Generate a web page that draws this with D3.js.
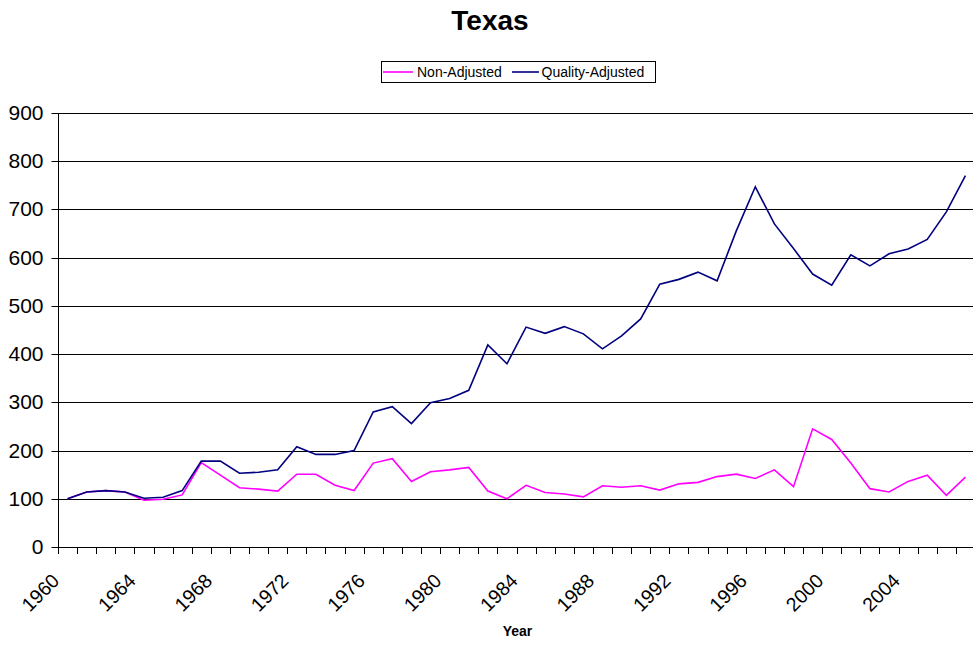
<!DOCTYPE html>
<html>
<head>
<meta charset="utf-8">
<script src="https://cdn.jsdelivr.net/npm/d3@7"></script>
<style>
  html, body { margin: 0; padding: 0; background: #fff; }
  svg { display: block; font-family: "Liberation Sans", Arial, sans-serif; }
</style>
</head>
<body>
<svg id="chart" width="973" height="645"></svg>
<script>
const years = d3.range(1960, 2008);
const nonAdjusted = [100,114,117,114,97,99,108,175,149,123,120,116,151,151,128,117,174,183,136,156,160,165,116,100,128,113,110,104,127,124,127,118,131,134,146,151,142,160,125,245,223,174,121,114,136,149,107,145];
const qualityAdjusted = [100,114,117,114,101,103,117,178,178,153,155,160,208,192,192,200,280,291,256,299,308,325,419,380,456,443,457,442,411,438,473,545,555,570,552,655,747,670,619,566,543,606,583,608,618,638,695,770];
const yTicks = [0,100,200,300,400,500,600,700,800,900];
const xTickLabels = [1960,1964,1968,1972,1976,1980,1984,1988,1992,1996,2000,2004];
const seriesNames = ["Non-Adjusted", "Quality-Adjusted"];
const seriesColors = ["#FF00FF", "#000080"];

const svg = d3.select("#chart");
const plotLeft = 58, plotRight = 975, plotTop = 113, plotBottom = 547;

const x = d3.scaleBand().domain(years).range([plotLeft, plotRight]).paddingInner(0).paddingOuter(0);
const y = d3.scaleLinear().domain([0, 900]).range([plotBottom, plotTop]);
const cx = d => x(d) + x.bandwidth() / 2;

// gridlines
svg.append("g").selectAll("line").data(yTicks.filter(v => v > 0)).join("line")
  .attr("x1", plotLeft).attr("x2", 973)
  .attr("y1", d => Math.round(y(d)) + 0.5).attr("y2", d => Math.round(y(d)) + 0.5)
  .attr("stroke", "#000").attr("stroke-width", 1);

// y axis
const yAxis = svg.append("g").attr("transform", `translate(${plotLeft + 0.5},0.5)`)
  .call(d3.axisLeft(y).tickValues(yTicks).tickSize(7).tickPadding(8).tickFormat(d3.format("d")));
yAxis.select(".domain").attr("stroke", "#000").attr("d", `M0,${Math.round(y(900))}V${Math.round(y(0))}`);
yAxis.selectAll(".tick line").attr("stroke", "#000");
yAxis.selectAll(".tick text").attr("font-size", 21).attr("fill", "#000")
  .attr("font-family", "Liberation Sans, Arial, sans-serif");
yAxis.selectAll(".tick").attr("transform", d => `translate(0,${Math.round(y(d))})`);

// x axis line
svg.append("line").attr("x1", plotLeft).attr("x2", 973)
  .attr("y1", Math.round(y(0)) + 0.5).attr("y2", Math.round(y(0)) + 0.5)
  .attr("stroke", "#000");
// x ticks at category boundaries
const boundaries = years.map(d => x(d)).concat([x(years[years.length - 1]) + x.bandwidth()]);
svg.append("g").selectAll("line").data(boundaries.filter(b => b <= 973)).join("line")
  .attr("x1", d => Math.round(d) + 0.5).attr("x2", d => Math.round(d) + 0.5)
  .attr("y1", Math.round(y(0))).attr("y2", Math.round(y(0)) + 7)
  .attr("stroke", "#000");

// x tick labels
svg.append("g").selectAll("text").data(xTickLabels).join("text")
  .attr("transform", d => `translate(${cx(d) - 12},577) rotate(-45)`)
  .attr("text-anchor", "end").attr("dominant-baseline", "central")
  .attr("font-size", 19.5).attr("fill", "#000")
  .text(d => d);

// lines
const line = d3.line().x((d, i) => cx(years[i])).y(d => y(d));
[nonAdjusted, qualityAdjusted].forEach((s, k) => {
  svg.append("path").datum(s).attr("d", line)
    .attr("fill", "none").attr("stroke", seriesColors[k]).attr("stroke-width", 1.6)
    .attr("stroke-linejoin", "miter");
});

// title
svg.append("text").attr("x", 490).attr("y", 30).attr("text-anchor", "middle")
  .attr("font-size", 28).attr("font-weight", "bold").text("Texas");

// x axis title
svg.append("text").attr("x", 517.5).attr("y", 636).attr("text-anchor", "middle")
  .attr("font-size", 14).attr("font-weight", "bold").text("Year");

// legend
const lg = svg.append("g");
lg.append("rect").attr("x", 381.5).attr("y", 61.5).attr("width", 274).attr("height", 21)
  .attr("fill", "#fff").attr("stroke", "#000");
const legendItems = [
  { x1: 383, x2: 413, tx: 417 },
  { x1: 512, x2: 539, tx: 541.5 }
];
legendItems.forEach((it, k) => {
  lg.append("line").attr("x1", it.x1).attr("x2", it.x2).attr("y1", 72).attr("y2", 72)
    .attr("stroke", seriesColors[k]).attr("stroke-width", 1.6);
  lg.append("text").attr("x", it.tx).attr("y", 77).attr("font-size", 14).text(seriesNames[k]);
});
</script>
</body>
</html>
